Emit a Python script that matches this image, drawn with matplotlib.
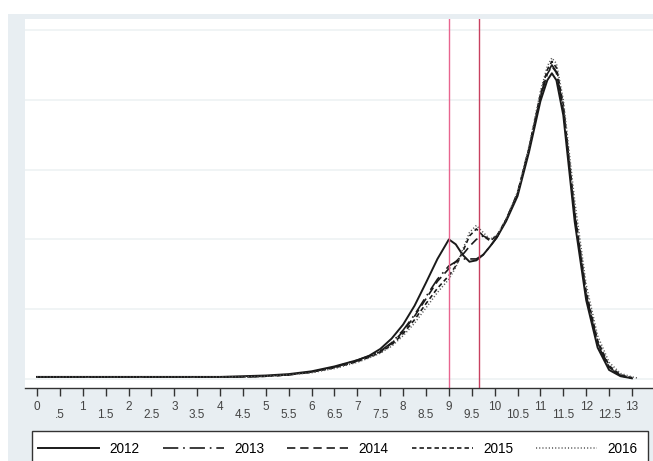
import numpy as np
import matplotlib.pyplot as plt
from matplotlib.patches import Rectangle

# -----------------------------------
# Data (density of each year)
# -----------------------------------

x_knots = [0, 0.5, 1, 1.5, 2, 2.5, 3, 3.5, 4, 4.5, 5, 5.5, 6, 6.5, 7, 7.25, 7.5,
           7.75, 8, 8.25, 8.5, 8.75, 9, 9.15, 9.3, 9.45, 9.6, 9.75, 9.9, 10.05,
           10.25, 10.5, 10.75, 11, 11.15, 11.25, 11.35, 11.5, 11.75, 12, 12.25,
           12.5, 12.75, 13, 13.15]

d2012 = [0.003, 0.003, 0.003, 0.003, 0.003, 0.003, 0.003, 0.003, 0.003, 0.004,
         0.005, 0.007, 0.011, 0.018, 0.027, 0.033, 0.043, 0.058, 0.078, 0.105,
         0.138, 0.172, 0.200, 0.193, 0.178, 0.168, 0.170, 0.178, 0.190, 0.203,
         0.226, 0.262, 0.325, 0.398, 0.428, 0.438, 0.428, 0.378, 0.225, 0.113,
         0.045, 0.013, 0.004, 0.001, np.nan]

d2013 = [0.003, 0.003, 0.003, 0.003, 0.003, 0.003, 0.003, 0.003, 0.003, 0.003,
         0.004, 0.006, 0.010, 0.017, 0.027, 0.033, 0.040, 0.052, 0.070, 0.092,
         0.118, 0.143, 0.162, 0.168, 0.172, 0.172, 0.172, 0.178, 0.190, 0.203,
         0.228, 0.265, 0.330, 0.405, 0.438, 0.450, 0.440, 0.388, 0.235, 0.120,
         0.050, 0.016, 0.005, 0.001, np.nan]

d2014 = [0.003, 0.003, 0.003, 0.003, 0.003, 0.003, 0.003, 0.003, 0.003, 0.003,
         0.004, 0.006, 0.010, 0.017, 0.026, 0.032, 0.039, 0.051, 0.068, 0.090,
         0.115, 0.140, 0.158, 0.168, 0.178, 0.190, 0.200, 0.205, 0.200, 0.205,
         0.228, 0.266, 0.330, 0.404, 0.437, 0.448, 0.439, 0.386, 0.235, 0.120,
         0.052, 0.017, 0.005, 0.001, np.nan]

d2015 = [0.003, 0.003, 0.003, 0.003, 0.003, 0.003, 0.003, 0.003, 0.003, 0.003,
         0.004, 0.006, 0.010, 0.016, 0.025, 0.031, 0.038, 0.049, 0.065, 0.085,
         0.108, 0.130, 0.148, 0.162, 0.182, 0.205, 0.215, 0.205, 0.198, 0.205,
         0.228, 0.266, 0.330, 0.408, 0.443, 0.455, 0.446, 0.393, 0.240, 0.125,
         0.055, 0.019, 0.006, 0.002, np.nan]

d2016 = [0.003, 0.003, 0.003, 0.003, 0.003, 0.003, 0.003, 0.003, 0.003, 0.003,
         0.004, 0.006, 0.009, 0.015, 0.024, 0.030, 0.037, 0.047, 0.062, 0.080,
         0.102, 0.124, 0.143, 0.160, 0.185, 0.210, 0.220, 0.210, 0.200, 0.206,
         0.229, 0.268, 0.333, 0.412, 0.448, 0.460, 0.452, 0.400, 0.255, 0.135,
         0.062, 0.024, 0.008, 0.003, 0.001]

years = ["2012", "2013", "2014", "2015", "2016"]
series = [d2012, d2013, d2014, d2015, d2016]

ref_lines = [9, 9.65]

int_ticks = list(range(0, 14))
half_ticks = [i + 0.5 for i in range(0, 13)]
half_labels = [".5"] + [f"{t:g}" for t in half_ticks[1:]]

# -----------------------------------
# Styles
# -----------------------------------

plt.rcParams["font.family"] = ["Liberation Sans", "DejaVu Sans"]
plt.rcParams["lines.scale_dashes"] = False

styles = [
    dict(color="#1a1a1a", linewidth=1.4, linestyle="-"),
    dict(color="#1a1a1a", linewidth=1.2, linestyle=(0, (11, 3.5, 1.2, 3.5))),
    dict(color="#1a1a1a", linewidth=1.2, linestyle=(0, (6, 3.5))),
    dict(color="#1a1a1a", linewidth=1.2, linestyle=(0, (3.2, 2.2))),
    dict(color="#555555", linewidth=1.1, linestyle=(0, (0.8, 1.5))),
]

W, H = 653, 461
fig = plt.figure(figsize=(W / 100, H / 100), dpi=100, facecolor="white")

# light graph region as in Stata's s2color (behind the axes)
fig.patches.append(Rectangle((8 / W, 0), 1 - 8 / W, (H - 14) / H,
                             transform=fig.transFigure, facecolor="#e8eef2",
                             edgecolor="none", zorder=-10))

# legend box, runs off the bottom of the picture
fig.patches.append(Rectangle((32 / W, -10 / H), (648 - 32) / W, (40) / H,
                             transform=fig.transFigure, facecolor="white",
                             edgecolor="#333333", linewidth=1, zorder=-5))

ax = fig.add_axes([25 / W, 1 - 388 / H, (W - 25) / W, (388 - 19) / H])
ax.set_facecolor("white")

for vals, st, yr in zip(series, styles, years):
    ax.plot(x_knots, vals, label=yr, solid_joinstyle="round", **st)

ax.axvline(ref_lines[0], color="#e8658f", linewidth=1.0)
ax.axvline(ref_lines[1], color="#c84060", linewidth=1.0)

ax.set_xlim(-0.262, 13.46)
ax.set_ylim(-0.0129, 0.5158)

ax.set_yticks([0, 0.1, 0.2, 0.3, 0.4, 0.5])
ax.yaxis.grid(True, color="#eef2f4", linewidth=1.2)
ax.set_axisbelow(True)
ax.tick_params(axis="y", left=False, labelleft=False)

ax.set_xticks(int_ticks)
ax.set_xticklabels([str(t) for t in int_ticks])
ax.set_xticks(half_ticks, minor=True)
ax.set_xticklabels(half_labels, minor=True)
ax.tick_params(axis="x", which="both", length=6, width=1, color="#333333",
               labelsize=8.5, labelcolor="#444444")
ax.tick_params(axis="x", which="major", pad=3)
ax.tick_params(axis="x", which="minor", pad=9)

for side in ["left", "top", "right"]:
    ax.spines[side].set_visible(False)
ax.spines["bottom"].set_color("#333333")
ax.spines["bottom"].set_linewidth(1)

fig.legend(loc="center left", bbox_to_anchor=(32 / W, 1 - 449 / H),
           ncol=5, fontsize=9.8, frameon=False,
           handlelength=4.5, handletextpad=0.74,
           columnspacing=1.7, borderpad=0.45, borderaxespad=0)

plt.savefig("out.png", dpi=100, facecolor=fig.get_facecolor())
